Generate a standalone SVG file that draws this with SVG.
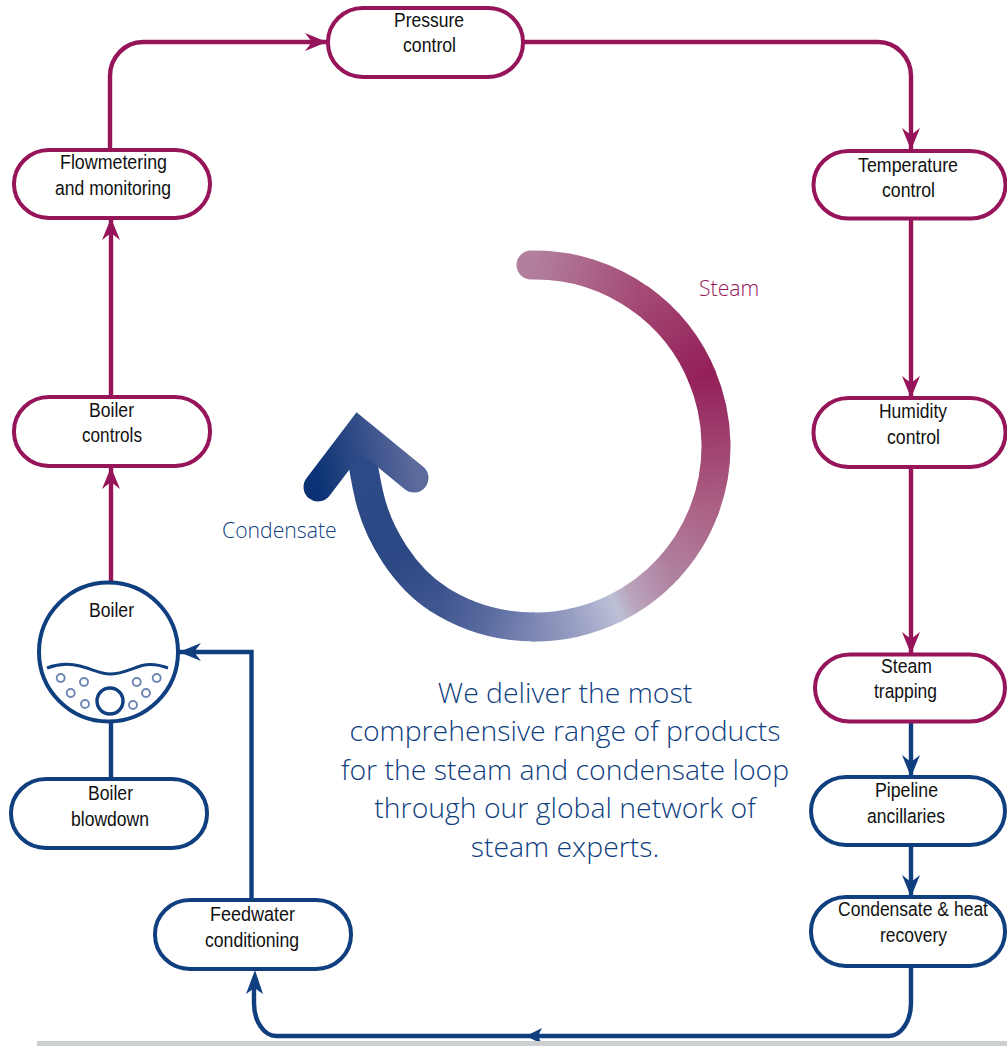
<svg xmlns="http://www.w3.org/2000/svg" width="1007" height="1046" viewBox="0 0 1007 1046">
<style>
.n{fill:#fff;stroke-width:4}
.s{stroke:#96145a}
.c{stroke:#0f3f7f}
.t{font-family:"Liberation Sans",Arial,sans-serif;font-size:20.500px;fill:#111}
.l{fill:none;stroke-width:4.400}
.m{font-family:"Open Sans",sans-serif;font-weight:300;font-size:28.400px;fill:#0f3f7f;text-anchor:middle}
.b{fill:none;stroke:#6f86b2;stroke-width:1.900}
.a{fill:none;stroke-width:29}
.lab{font-family:"Open Sans",sans-serif;font-weight:300;font-size:21.200px}
</style>
<defs>
<marker id="ms" markerUnits="userSpaceOnUse" markerWidth="24" markerHeight="22" refX="22" refY="10" orient="auto"><path d="M0 1 L22 10 L0 19 L7 10Z" fill="#96145a"/></marker>
<marker id="mc" markerUnits="userSpaceOnUse" markerWidth="24" markerHeight="22" refX="22" refY="10" orient="auto"><path d="M0 1 L22 10 L0 19 L7 10Z" fill="#0f3f7f"/></marker>
<linearGradient id="g1" gradientUnits="userSpaceOnUse" x1="531" y1="265" x2="638.800" y2="297.700"><stop offset="0" stop-color="#b2809e"/><stop offset="1" stop-color="#a44a74"/></linearGradient>
<linearGradient id="g2" gradientUnits="userSpaceOnUse" x1="638.800" y1="297.700" x2="701.600" y2="375.300"><stop offset="0" stop-color="#a44a74"/><stop offset="1" stop-color="#94205a"/></linearGradient>
<linearGradient id="g3" gradientUnits="userSpaceOnUse" x1="701.600" y1="375.300" x2="705.100" y2="507.900"><stop offset="0" stop-color="#94205a"/><stop offset="1" stop-color="#ab6184"/></linearGradient>
<linearGradient id="g4" gradientUnits="userSpaceOnUse" x1="705.100" y1="507.900" x2="669" y2="567.800"><stop offset="0" stop-color="#ab6184"/><stop offset="1" stop-color="#b0809f"/></linearGradient>
<linearGradient id="g4b" gradientUnits="userSpaceOnUse" x1="675.200" y1="580.500" x2="616.100" y2="607.800"><stop offset="0" stop-color="#b0809f"/><stop offset="0.7" stop-color="#b9a3bb"/><stop offset="1" stop-color="#bcc0d6"/></linearGradient>
<linearGradient id="g5" gradientUnits="userSpaceOnUse" x1="616.100" y1="607.800" x2="577.100" y2="625.800"><stop offset="0" stop-color="#bcc0d6"/><stop offset="1" stop-color="#9aa0c4"/></linearGradient>
<linearGradient id="g5b" gradientUnits="userSpaceOnUse" x1="575.700" y1="622.400" x2="535" y2="627"><stop offset="0" stop-color="#9aa0c4"/><stop offset="1" stop-color="#7f88b4"/></linearGradient>
<linearGradient id="g6" gradientUnits="userSpaceOnUse" x1="535" y1="627" x2="439.100" y2="599.500"><stop offset="0" stop-color="#7f88b4"/><stop offset="0.5" stop-color="#586a9f"/><stop offset="1" stop-color="#3f558f"/></linearGradient>
<linearGradient id="g7" gradientUnits="userSpaceOnUse" x1="439.100" y1="599.500" x2="364" y2="480"><stop offset="0" stop-color="#3f558f"/><stop offset="0.4" stop-color="#2b4884"/><stop offset="1" stop-color="#2c4a86"/></linearGradient>
<linearGradient id="g8" gradientUnits="userSpaceOnUse" x1="318" y1="487" x2="415" y2="470"><stop offset="0" stop-color="#0b3275"/><stop offset="1" stop-color="#5c6a9c"/></linearGradient>
</defs>
<g id="connectors">
<path class="l s" marker-end="url(#ms)" d="M111 582V467"/>
<path class="l s" marker-end="url(#ms)" d="M111 397V218"/>
<path class="l s" marker-end="url(#ms)" d="M110 149V76A33 34 0 0 1 143 42H327"/>
<path class="l s" marker-end="url(#ms)" d="M523 42H878A33 34 0 0 1 911 76V150"/>
<path class="l s" marker-end="url(#ms)" d="M911 218V398"/>
<path class="l s" marker-end="url(#ms)" d="M911 467V654"/>
<path class="l c" marker-end="url(#mc)" d="M911 722V777"/>
<path class="l c" marker-end="url(#mc)" d="M911 845V897"/>
<path class="l c" d="M911 966V1003A22 33 0 0 1 889 1036H276A22 33 0 0 1 254 1003V985"/>
<path d="M255 970L263 994L254.500 988L246 994Z" fill="#0f3f7f"/>
<path d="M526 1036L542 1028L538 1036L542 1044Z" fill="#0f3f7f"/>
<path class="l c" marker-end="url(#mc)" d="M251.500 900V652H179"/>
<path class="l c" d="M111 722V779"/>
</g>
<g id="cycle">
<path class="a" stroke="url(#g1)" stroke-linecap="round" d="M531 265A181 181 0 0 1 641.400 299.600"/>
<path class="a" stroke="url(#g2)" d="M638.800 297.700A181 181 0 0 1 702.800 378.200"/>
<path class="a" stroke="url(#g3)" d="M701.600 375.300A181 181 0 0 1 704 510.900"/>
<path class="a" stroke="url(#g4)" d="M705.100 507.900A181 181 0 0 1 666.900 570.100"/>
<path class="a" stroke="url(#g4b)" d="M669 567.800A181 181 0 0 1 613.500 609.100"/>
<path class="a" stroke="url(#g5)" d="M616.100 607.800A181 181 0 0 1 572.600 623"/>
<path class="a" stroke="url(#g5b)" d="M575.700 622.400A181 181 0 0 1 531.800 627"/>
<path class="a" stroke="url(#g6)" d="M535 627A181 181 0 0 1 436.400 597.800"/>
<path class="a" stroke="url(#g7)" d="M439.100 599.500C405 578 378 535 369 495C365 478 363 465 360 445"/>
<path class="a" stroke="url(#g8)" stroke-width="28" stroke-linecap="round" stroke-linejoin="miter" stroke-miterlimit="4" d="M318 487L359 433L414 478"/>
</g>
<g id="pressure"><rect class="n s" x="328" y="8" width="195" height="69" rx="35" ry="34"/><text class="t" x="394" y="27" textLength="70" lengthAdjust="spacingAndGlyphs">Pressure</text><text class="t" x="403" y="52" textLength="53" lengthAdjust="spacingAndGlyphs">control</text></g>
<g id="flow"><rect class="n s" x="14" y="150" width="196" height="68" rx="35" ry="34"/><text class="t" x="60" y="169" textLength="107" lengthAdjust="spacingAndGlyphs">Flowmetering</text><text class="t" x="55" y="195" textLength="116" lengthAdjust="spacingAndGlyphs">and monitoring</text></g>
<g id="temperature"><rect class="n s" x="813.500" y="151" width="192" height="67.500" rx="35" ry="33.500"/><text class="t" x="858" y="172" textLength="100" lengthAdjust="spacingAndGlyphs">Temperature</text><text class="t" x="882" y="197" textLength="53" lengthAdjust="spacingAndGlyphs">control</text></g>
<g id="boiler-controls"><rect class="n s" x="14" y="397" width="196" height="69" rx="35" ry="34"/><text class="t" x="89" y="417" textLength="45" lengthAdjust="spacingAndGlyphs">Boiler</text><text class="t" x="82" y="442" textLength="60" lengthAdjust="spacingAndGlyphs">controls</text></g>
<g id="humidity"><rect class="n s" x="813.500" y="398" width="192" height="69" rx="35" ry="34"/><text class="t" x="879" y="418" textLength="68" lengthAdjust="spacingAndGlyphs">Humidity</text><text class="t" x="887" y="444" textLength="53" lengthAdjust="spacingAndGlyphs">control</text></g>
<g id="steam-trapping"><rect class="n s" x="815" y="654.500" width="190" height="67" rx="35" ry="33.500"/><text class="t" x="881" y="673" textLength="51" lengthAdjust="spacingAndGlyphs">Steam</text><text class="t" x="874" y="698" textLength="63" lengthAdjust="spacingAndGlyphs">trapping</text></g>
<g id="pipeline"><rect class="n c" x="811" y="777" width="194" height="68" rx="35" ry="34"/><text class="t" x="875" y="797" textLength="63" lengthAdjust="spacingAndGlyphs">Pipeline</text><text class="t" x="867" y="823" textLength="78" lengthAdjust="spacingAndGlyphs">ancillaries</text></g>
<g id="condensate-recovery"><rect class="n c" x="811" y="897" width="194" height="69" rx="35" ry="34"/><text class="t" x="838" y="916" textLength="150" lengthAdjust="spacingAndGlyphs">Condensate &amp; heat</text><text class="t" x="880" y="942" textLength="67" lengthAdjust="spacingAndGlyphs">recovery</text></g>
<g id="feedwater"><rect class="n c" x="155" y="900" width="196" height="69" rx="35" ry="34"/><text class="t" x="210" y="921" textLength="85" lengthAdjust="spacingAndGlyphs">Feedwater</text><text class="t" x="205" y="947" textLength="94" lengthAdjust="spacingAndGlyphs">conditioning</text></g>
<g id="blowdown"><rect class="n c" x="11" y="779" width="196" height="69" rx="35" ry="34"/><text class="t" x="88" y="800" textLength="45" lengthAdjust="spacingAndGlyphs">Boiler</text><text class="t" x="71" y="826" textLength="78" lengthAdjust="spacingAndGlyphs">blowdown</text></g>
<g id="boiler">
<circle class="n c" cx="108.500" cy="652" r="69.500"/>
<path class="l c" style="stroke-width:3" d="M47 668C55 665 68 663 80 666C92 669 100 674 110 674C122 674 130 669 142 665.500C152 663 160 665 168 668"/>
<circle class="l c" cx="110" cy="701" r="13" style="stroke-width:3.400"/>
<circle class="b" cx="60.700" cy="678" r="4"/><circle class="b" cx="84" cy="682" r="4"/><circle class="b" cx="70.700" cy="693" r="4"/><circle class="b" cx="85" cy="704" r="4"/><circle class="b" cx="136.700" cy="682" r="4"/><circle class="b" cx="156.700" cy="678" r="4"/><circle class="b" cx="146" cy="693" r="4"/><circle class="b" cx="133" cy="705" r="4"/>
<text class="t" x="89" y="617" textLength="45" lengthAdjust="spacingAndGlyphs">Boiler</text>
</g>
<text class="lab" x="699" y="296" fill="#96145a">Steam</text>
<text class="lab" x="222" y="538" fill="#0f3f7f">Condensate</text>
<g id="caption">
<text class="m" x="565" y="703">We deliver the most</text>
<text class="m" x="565" y="741">comprehensive range of products</text>
<text class="m" x="565" y="780">for the steam and condensate loop</text>
<text class="m" x="565" y="818">through our global network of</text>
<text class="m" x="565" y="857">steam experts.</text>
</g>
<rect x="37" y="1041" width="970" height="5" fill="#cdd0d0"/>
</svg>
